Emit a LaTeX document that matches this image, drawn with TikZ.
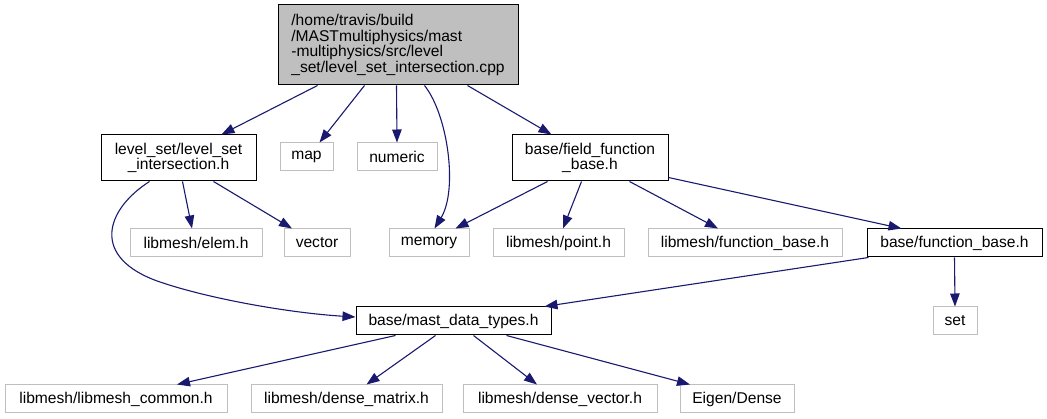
\documentclass[tikz,border=0pt]{standalone}
\usepackage{fontspec}
\setmainfont{Liberation Sans}
\usetikzlibrary{arrows.meta}
\definecolor{edgeblue}{HTML}{191970}
\definecolor{lgray}{HTML}{BFBFBF}
\tikzset{
  nbase/.style={rectangle, inner sep=0pt, align=center, font=\fontsize{15.6}{15.7}\selectfont, line width=1pt},
  gbox/.style={nbase, draw=lgray, minimum height=28pt},
  bbox/.style={nbase, draw=black},
  rootbox/.style={nbase, draw=black, fill=lgray, align=left},
  edge/.style={draw=edgeblue, line width=1.1pt, -{Triangle[length=13pt,width=9.5pt]}},
}
\begin{document}
\begin{tikzpicture}[x=1pt,y=-1pt]
\useasboundingbox (0,0) rectangle (1047,419);
% nodes
\node[rootbox, minimum width=240pt, minimum height=80pt] (root) at (398,45) {/home/travis/build\\/MASTmultiphysics/mast\\-multiphysics/src/level\\\_set/level\_set\_intersection.cpp};
\node[bbox, minimum width=155pt, minimum height=46pt] (lsi) at (178.5,158) {level\_set/level\_set\\\_intersection.h};
\node[gbox, minimum width=53pt] (map) at (306.5,157) {map};
\node[gbox, minimum width=80pt] (numeric) at (397,157) {numeric};
\node[bbox, minimum width=156pt, minimum height=46pt] (ffb) at (590,158) {base/field\_function\\\_base.h};
\node[gbox, minimum width=132pt] (elem) at (196,243) {libmesh/elem.h};
\node[gbox, minimum width=66pt] (vector) at (317,243) {vector};
\node[gbox, minimum width=80pt] (memory) at (429,243) {memory};
\node[gbox, minimum width=131pt] (point) at (558.5,243) {libmesh/point.h};
\node[gbox, minimum width=194pt] (lfb) at (745,243) {libmesh/function\_base.h};
\node[bbox, minimum width=175pt, minimum height=28pt] (bfb) at (954.5,243) {base/function\_base.h};
\node[bbox, minimum width=195pt, minimum height=28pt] (mast) at (453.5,321) {base/mast\_data\_types.h};
\node[gbox, minimum width=44pt] (set) at (955,321) {set};
\node[gbox, minimum width=222pt] (common) at (116,399) {libmesh/libmesh\_common.h};
\node[gbox, minimum width=191pt] (matrix) at (346.5,399) {libmesh/dense\_matrix.h};
\node[gbox, minimum width=194pt] (dvector) at (560,399) {libmesh/dense\_vector.h};
\node[gbox, minimum width=114pt] (eigen) at (737,399) {Eigen/Dense};
% edges
\draw[edge] ([xshift=40pt]root.south west) -- ([xshift=121pt]lsi.north west);
\draw[edge] ([xshift=87pt]root.south west) -- ([xshift=-14pt]map.north east);
\draw[edge] ([xshift=119pt]root.south west) -- (numeric.north);
\draw[edge] ([xshift=147pt]root.south west) .. controls (448,115) and (458,190) .. ([xshift=46pt]memory.north west);
\draw[edge] ([xshift=-51pt]root.south east) -- ([xshift=40pt]ffb.north west);
\draw[edge] ([xshift=82pt]lsi.south west) -- ([xshift=-4pt]elem.north);
\draw[edge] ([xshift=113pt]lsi.south west) -- ([xshift=-25pt]vector.north);
\draw[edge] ([xshift=49pt]lsi.south west) .. controls (105,210) and (90,258) .. (160,282) .. controls (210,299) and (290,313) .. ([yshift=4pt]mast.west);
\draw[edge] ([xshift=36pt]ffb.south west) -- ([xshift=-14pt]memory.north east);
\draw[edge] ([xshift=70pt]ffb.south west) -- ([xshift=4.5pt]point.north);
\draw[edge] ([xshift=118pt]ffb.south west) -- ([xshift=-27pt]lfb.north);
\draw[edge] ([yshift=4pt]ffb.south east) -- ([xshift=35pt]bfb.north west);
\draw[edge] ([xshift=2pt]bfb.south west) -- ([xshift=-7pt]mast.north east);
\draw[edge] (bfb.south) -- (set.north);
\draw[edge] ([xshift=40pt]mast.south west) -- ([xshift=61pt]common.north);
\draw[edge] ([xshift=80pt]mast.south west) -- ([xshift=20pt]matrix.north);
\draw[edge] ([xshift=118pt]mast.south west) -- ([xshift=-23pt]dvector.north);
\draw[edge] ([xshift=151pt]mast.south west) -- ([xshift=-47pt]eigen.north);
\end{tikzpicture}
\end{document}
